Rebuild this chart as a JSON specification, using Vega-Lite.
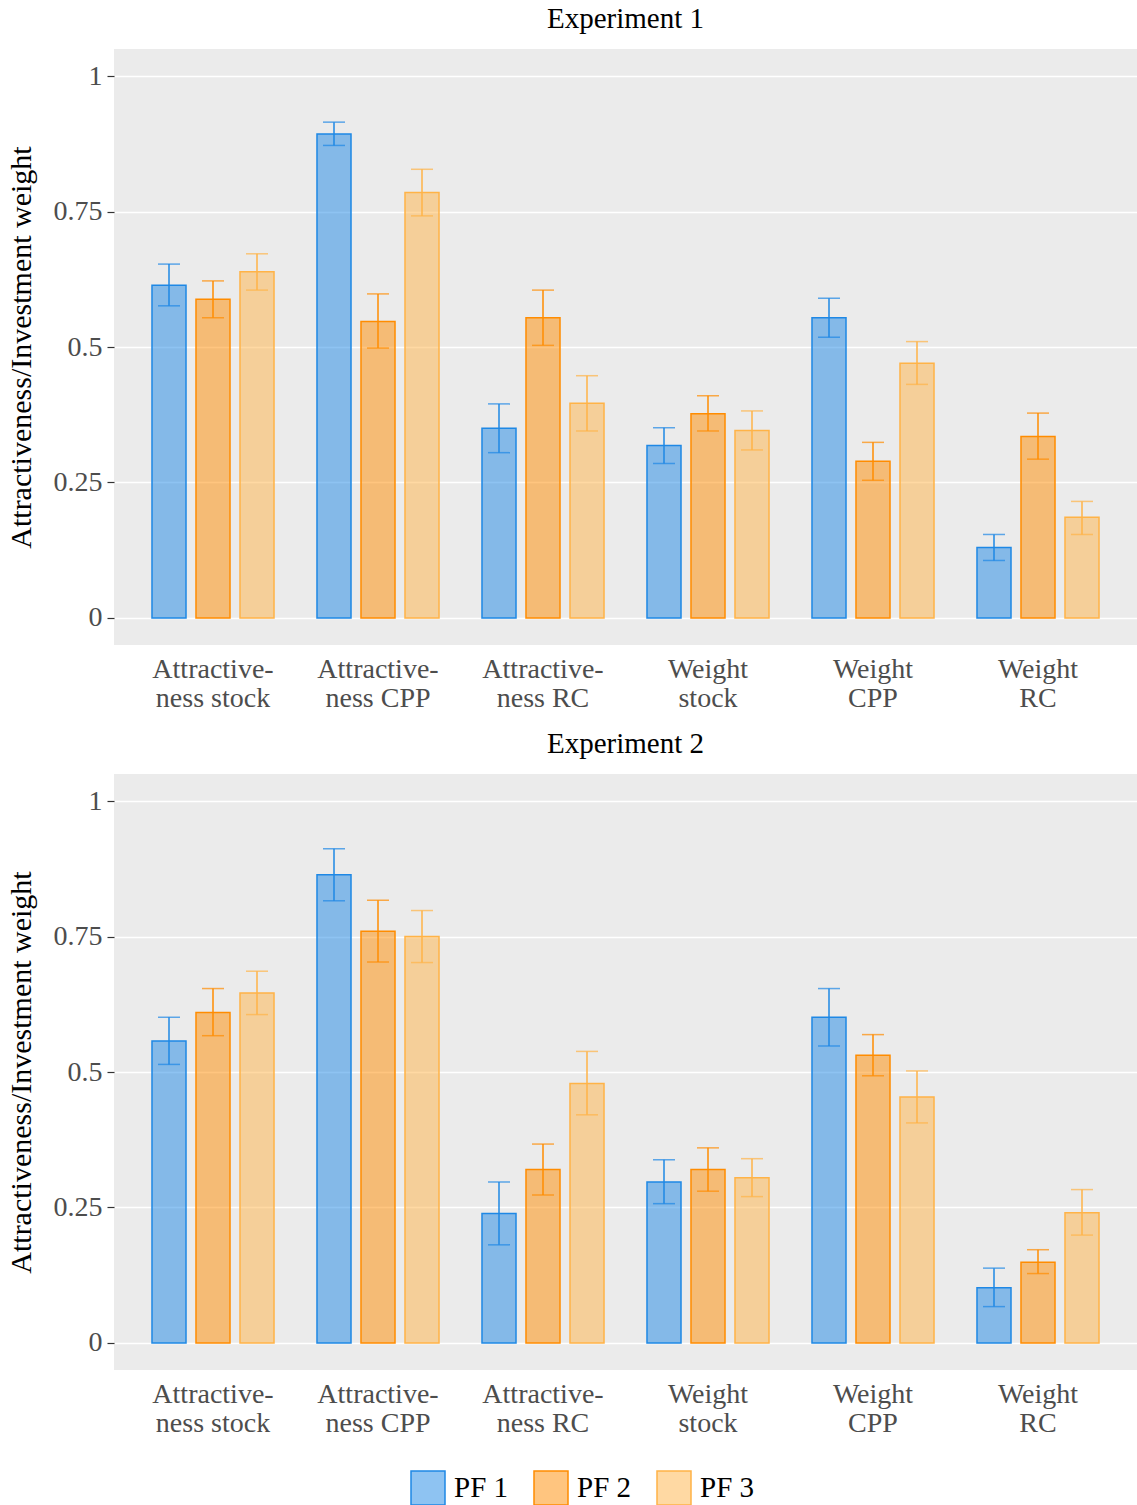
{
  "$schema": "https://vega.github.io/schema/vega-lite/v6.json",
  "padding": {"left": 6, "top": 5, "right": 0, "bottom": 0},
  "datasets": {
    "bars": [
      {"experiment": "Experiment 1", "category": "Attractiveness stock", "pf": "PF 1", "mean": 0.614, "lo": 0.576, "hi": 0.653},
      {"experiment": "Experiment 1", "category": "Attractiveness stock", "pf": "PF 2", "mean": 0.588, "lo": 0.554, "hi": 0.622},
      {"experiment": "Experiment 1", "category": "Attractiveness stock", "pf": "PF 3", "mean": 0.639, "lo": 0.605, "hi": 0.672},
      {"experiment": "Experiment 1", "category": "Attractiveness CPP", "pf": "PF 1", "mean": 0.893, "lo": 0.872, "hi": 0.915},
      {"experiment": "Experiment 1", "category": "Attractiveness CPP", "pf": "PF 2", "mean": 0.547, "lo": 0.498, "hi": 0.598},
      {"experiment": "Experiment 1", "category": "Attractiveness CPP", "pf": "PF 3", "mean": 0.785, "lo": 0.742, "hi": 0.828},
      {"experiment": "Experiment 1", "category": "Attractiveness RC", "pf": "PF 1", "mean": 0.350, "lo": 0.305, "hi": 0.395},
      {"experiment": "Experiment 1", "category": "Attractiveness RC", "pf": "PF 2", "mean": 0.554, "lo": 0.503, "hi": 0.605},
      {"experiment": "Experiment 1", "category": "Attractiveness RC", "pf": "PF 3", "mean": 0.396, "lo": 0.345, "hi": 0.447},
      {"experiment": "Experiment 1", "category": "Weight stock", "pf": "PF 1", "mean": 0.318, "lo": 0.285, "hi": 0.351},
      {"experiment": "Experiment 1", "category": "Weight stock", "pf": "PF 2", "mean": 0.377, "lo": 0.345, "hi": 0.410},
      {"experiment": "Experiment 1", "category": "Weight stock", "pf": "PF 3", "mean": 0.346, "lo": 0.310, "hi": 0.382},
      {"experiment": "Experiment 1", "category": "Weight CPP", "pf": "PF 1", "mean": 0.554, "lo": 0.518, "hi": 0.590},
      {"experiment": "Experiment 1", "category": "Weight CPP", "pf": "PF 2", "mean": 0.289, "lo": 0.254, "hi": 0.324},
      {"experiment": "Experiment 1", "category": "Weight CPP", "pf": "PF 3", "mean": 0.470, "lo": 0.431, "hi": 0.510},
      {"experiment": "Experiment 1", "category": "Weight RC", "pf": "PF 1", "mean": 0.130, "lo": 0.106, "hi": 0.154},
      {"experiment": "Experiment 1", "category": "Weight RC", "pf": "PF 2", "mean": 0.335, "lo": 0.293, "hi": 0.378},
      {"experiment": "Experiment 1", "category": "Weight RC", "pf": "PF 3", "mean": 0.186, "lo": 0.154, "hi": 0.215},
      {"experiment": "Experiment 2", "category": "Attractiveness stock", "pf": "PF 1", "mean": 0.557, "lo": 0.514, "hi": 0.601},
      {"experiment": "Experiment 2", "category": "Attractiveness stock", "pf": "PF 2", "mean": 0.610, "lo": 0.567, "hi": 0.654},
      {"experiment": "Experiment 2", "category": "Attractiveness stock", "pf": "PF 3", "mean": 0.646, "lo": 0.606, "hi": 0.686},
      {"experiment": "Experiment 2", "category": "Attractiveness CPP", "pf": "PF 1", "mean": 0.864, "lo": 0.816, "hi": 0.912},
      {"experiment": "Experiment 2", "category": "Attractiveness CPP", "pf": "PF 2", "mean": 0.760, "lo": 0.703, "hi": 0.817},
      {"experiment": "Experiment 2", "category": "Attractiveness CPP", "pf": "PF 3", "mean": 0.750, "lo": 0.702, "hi": 0.798},
      {"experiment": "Experiment 2", "category": "Attractiveness RC", "pf": "PF 1", "mean": 0.239, "lo": 0.181, "hi": 0.297},
      {"experiment": "Experiment 2", "category": "Attractiveness RC", "pf": "PF 2", "mean": 0.320, "lo": 0.273, "hi": 0.367},
      {"experiment": "Experiment 2", "category": "Attractiveness RC", "pf": "PF 3", "mean": 0.479, "lo": 0.421, "hi": 0.538},
      {"experiment": "Experiment 2", "category": "Weight stock", "pf": "PF 1", "mean": 0.297, "lo": 0.257, "hi": 0.338},
      {"experiment": "Experiment 2", "category": "Weight stock", "pf": "PF 2", "mean": 0.320, "lo": 0.280, "hi": 0.360},
      {"experiment": "Experiment 2", "category": "Weight stock", "pf": "PF 3", "mean": 0.305, "lo": 0.270, "hi": 0.340},
      {"experiment": "Experiment 2", "category": "Weight CPP", "pf": "PF 1", "mean": 0.601, "lo": 0.548, "hi": 0.654},
      {"experiment": "Experiment 2", "category": "Weight CPP", "pf": "PF 2", "mean": 0.531, "lo": 0.493, "hi": 0.569},
      {"experiment": "Experiment 2", "category": "Weight CPP", "pf": "PF 3", "mean": 0.454, "lo": 0.406, "hi": 0.502},
      {"experiment": "Experiment 2", "category": "Weight RC", "pf": "PF 1", "mean": 0.102, "lo": 0.067, "hi": 0.138},
      {"experiment": "Experiment 2", "category": "Weight RC", "pf": "PF 2", "mean": 0.149, "lo": 0.128, "hi": 0.172},
      {"experiment": "Experiment 2", "category": "Weight RC", "pf": "PF 3", "mean": 0.240, "lo": 0.199, "hi": 0.283}
    ]
  },
  "data": {"name": "bars"},
  "spacing": 18,
  "vconcat": [
    {
      "title": {"text": "Experiment 1"},
      "width": 1023,
      "height": 596,
      "transform": [{"filter": "datum.experiment == 'Experiment 1'"}],
      "encoding": {
        "x": {"field": "category", "type": "nominal", "sort": ["Attractiveness stock", "Attractiveness CPP", "Attractiveness RC", "Weight stock", "Weight CPP", "Weight RC"], "scale": {"paddingInner": 0.2, "paddingOuter": 0.2}, "title": null},
        "xOffset": {"field": "pf", "type": "nominal", "scale": {"paddingInner": 0.227, "paddingOuter": 0.1135}}
      },
      "layer": [
        {
          "mark": {"type": "bar", "fillOpacity": 0.5, "strokeWidth": 1.5},
          "encoding": {
            "y": {"field": "mean", "type": "quantitative", "title": "Attractiveness/Investment weight", "scale": {"domain": [-0.05, 1.05], "nice": false, "zero": false}, "axis": {"values": [0, 0.25, 0.5, 0.75, 1], "format": ".2~f"}},
            "fill": {"field": "pf", "type": "nominal", "title": null, "legend": {"encode": {"symbols": {"update": {"fillOpacity": {"value": 0.5}, "stroke": {"scale": "fill", "field": "value"}, "strokeWidth": {"value": 1.5}}}}}},
            "stroke": {"field": "pf", "type": "nominal", "legend": null}
          }
        },
        {
          "mark": {"type": "rule", "strokeWidth": 1.5},
          "encoding": {
            "y": {"field": "lo", "type": "quantitative"},
            "y2": {"field": "hi"},
            "stroke": {"field": "pf", "type": "nominal", "legend": null}
          }
        },
        {
          "mark": {"type": "tick", "size": 22, "thickness": 1.5},
          "encoding": {
            "y": {"field": "hi", "type": "quantitative"},
            "color": {"field": "pf", "type": "nominal", "legend": null}
          }
        },
        {
          "mark": {"type": "tick", "size": 22, "thickness": 1.5},
          "encoding": {
            "y": {"field": "lo", "type": "quantitative"},
            "color": {"field": "pf", "type": "nominal", "legend": null}
          }
        }
      ]
    },
    {
      "title": {"text": "Experiment 2"},
      "width": 1023,
      "height": 596,
      "transform": [{"filter": "datum.experiment == 'Experiment 2'"}],
      "encoding": {
        "x": {"field": "category", "type": "nominal", "sort": ["Attractiveness stock", "Attractiveness CPP", "Attractiveness RC", "Weight stock", "Weight CPP", "Weight RC"], "scale": {"paddingInner": 0.2, "paddingOuter": 0.2}, "title": null},
        "xOffset": {"field": "pf", "type": "nominal", "scale": {"paddingInner": 0.227, "paddingOuter": 0.1135}}
      },
      "layer": [
        {
          "mark": {"type": "bar", "fillOpacity": 0.5, "strokeWidth": 1.5},
          "encoding": {
            "y": {"field": "mean", "type": "quantitative", "title": "Attractiveness/Investment weight", "scale": {"domain": [-0.05, 1.05], "nice": false, "zero": false}, "axis": {"values": [0, 0.25, 0.5, 0.75, 1], "format": ".2~f"}},
            "fill": {"field": "pf", "type": "nominal", "title": null, "legend": {"encode": {"symbols": {"update": {"fillOpacity": {"value": 0.5}, "stroke": {"scale": "fill", "field": "value"}, "strokeWidth": {"value": 1.5}}}}}},
            "stroke": {"field": "pf", "type": "nominal", "legend": null}
          }
        },
        {
          "mark": {"type": "rule", "strokeWidth": 1.5},
          "encoding": {
            "y": {"field": "lo", "type": "quantitative"},
            "y2": {"field": "hi"},
            "stroke": {"field": "pf", "type": "nominal", "legend": null}
          }
        },
        {
          "mark": {"type": "tick", "size": 22, "thickness": 1.5},
          "encoding": {
            "y": {"field": "hi", "type": "quantitative"},
            "color": {"field": "pf", "type": "nominal", "legend": null}
          }
        },
        {
          "mark": {"type": "tick", "size": 22, "thickness": 1.5},
          "encoding": {
            "y": {"field": "lo", "type": "quantitative"},
            "color": {"field": "pf", "type": "nominal", "legend": null}
          }
        }
      ]
    }
  ],
  "config": {
    "font": "Liberation Serif",
    "view": {"fill": "#EBEBEB", "stroke": null},
    "range": {"category": ["#1E88E5", "#FF8C00", "#FFB347"]},
    "title": {"fontSize": 29, "fontWeight": "normal", "color": "#000000", "anchor": "middle", "offset": 15, "font": "Liberation Serif"},
    "axis": {"domain": false, "labelFont": "Liberation Serif", "labelFontSize": 28, "labelColor": "#4D4D4D", "tickColor": "#333333", "tickSize": 7, "tickWidth": 1.2, "gridColor": "#FFFFFF", "gridWidth": 1.5, "titleFont": "Liberation Serif", "titleFontSize": 30, "titleFontWeight": "normal", "titleColor": "#000000"},
    "axisX": {"ticks": false, "grid": false, "labelAngle": 0, "labelPadding": 10, "labelFontSize": 28, "labelLineHeight": 29, "labelExpr": "indexof(datum.value, 'Attractiveness') == 0 ? ['Attractive-', 'ness ' + substring(datum.value, 15)] : split(datum.value, ' ')"},
    "axisY": {"labelPadding": 5, "titlePadding": 17},
    "legend": {
      "orient": "none", "legendX": 296, "legendY": 1421, "direction": "horizontal",
      "symbolType": "square", "symbolSize": 1156, "symbolStrokeWidth": 1.5,
      "labelFont": "Liberation Serif", "labelFontSize": 29, "labelColor": "#000000",
      "columnPadding": 22, "symbolOffset": 0, "labelOffset": 8
    }
  },
  "resolve": {"scale": {"y": "shared"}}
}
